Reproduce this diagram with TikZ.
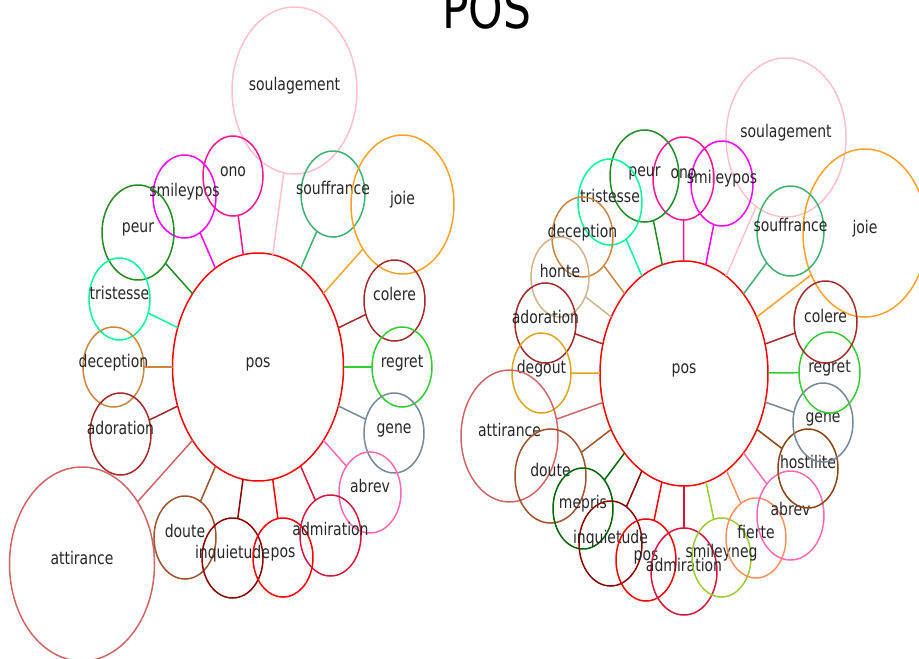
\documentclass[tikz,border=0pt]{standalone}
\usepackage{fontspec}
\usetikzlibrary{shapes.geometric}
\newfontfamily\lblfont[FakeStretch=0.8]{DejaVu Sans}

\definecolor{cpink}{RGB}{255,192,203}
\definecolor{cmag}{RGB}{255,0,255}
\definecolor{cdeep}{RGB}{255,20,147}
\definecolor{cforest}{RGB}{34,139,34}
\definecolor{cseag}{RGB}{60,179,113}
\definecolor{corange}{RGB}{255,160,40}
\definecolor{cspring}{RGB}{0,250,154}
\definecolor{cbrown}{RGB}{165,42,42}
\definecolor{cperu}{RGB}{205,133,63}
\definecolor{clime}{RGB}{50,205,50}
\definecolor{cslate}{RGB}{119,136,153}
\definecolor{chot}{RGB}{255,105,180}
\definecolor{cindian}{RGB}{210,100,100}
\definecolor{csienna}{RGB}{160,82,45}
\definecolor{cdkred}{RGB}{139,0,0}
\definecolor{cred}{RGB}{255,0,0}
\definecolor{ccrimson}{RGB}{220,20,60}
\definecolor{ctan}{RGB}{210,180,140}
\definecolor{cgold}{RGB}{218,165,32}
\definecolor{cdkgreen}{RGB}{0,100,0}
\definecolor{cyg}{RGB}{154,205,50}
\definecolor{csalmon}{RGB}{255,145,95}
\definecolor{csaddle}{RGB}{139,69,19}

\tikzset{
  bub/.style={ellipse, inner sep=0pt, outer sep=0pt, line width=1.5pt},
  lbl/.style={anchor=base, inner sep=0pt, text=black!85,
    font=\lblfont\fontsize{17.5}{20}\selectfont},
  spoke/.style={line width=1.5pt},
  heading/.style={anchor=base, inner sep=0pt, text=black,
    font=\lblfont\fontsize{55}{60}\selectfont}
}

% name, x, y, width, height, colour, text
\newcommand\bubble[7]{%
  \node[bub, draw=#6, minimum width=#4pt, minimum height=#5pt] (#1) at (#2,#3) {};
  \node[lbl] (#1-t) at (#1.center) {#7};
}

\begin{document}
\begin{tikzpicture}[x=1pt, y=-1pt]
\useasboundingbox (0,0) rectangle (919,659);

\node[heading] (title) at (487,28) {POS};

% ---------------- left star ----------------
\bubble{La}{258}{367}{171}{228}{cred}{pos}
\bubble{Lsoul}{294.5}{90.5}{125}{167}{cpink}{soulagement}
\bubble{Lsmile}{184.5}{196.5}{63}{83}{cmag}{smileypos}
\bubble{Lono}{233}{176}{60}{80}{cdeep}{ono}
\bubble{Lpeur}{138}{232.5}{72}{95}{cforest}{peur}
\bubble{Lsouf}{333}{194}{64}{86}{cseag}{souffrance}
\bubble{Ljoie}{402.5}{204.5}{103}{139}{corange}{joie}
\bubble{Ltrist}{119.5}{299}{61}{82}{cspring}{tristesse}
\bubble{Lcol}{394.5}{300.5}{61}{81}{cbrown}{colere}
\bubble{Ldec}{113.5}{367}{61}{80}{cperu}{deception}
\bubble{Lreg}{402}{367}{60}{80}{clime}{regret}
\bubble{Lado}{120.5}{434}{61}{82}{cbrown}{adoration}
\bubble{Lgene}{394}{433}{60}{80}{cslate}{gene}
\bubble{Labrev}{370}{492.5}{62}{81}{chot}{abrev}
\bubble{Latt}{82}{564}{145}{194}{cindian}{attirance}
\bubble{Ldoute}{185}{537.5}{62}{83}{csienna}{doute}
\bubble{Linq}{232.5}{558}{61}{80}{cdkred}{inquietude}
\bubble{Lpos}{283}{557.5}{60}{79}{cred}{pos}
\bubble{Ladm}{330.5}{535.5}{61}{81}{ccrimson}{admiration}

\foreach \n/\c in {Lsoul/cpink, Lsmile/cmag, Lono/cdeep, Lpeur/cforest,
  Lsouf/cseag, Ljoie/corange, Ltrist/cspring, Lcol/cbrown, Ldec/cperu,
  Lreg/clime, Lado/cbrown, Lgene/cslate, Labrev/chot, Latt/cindian,
  Ldoute/csienna, Linq/cdkred, Lpos/cred, Ladm/ccrimson}
  \draw[spoke, \c] (La) -- (\n);

% ---------------- right star ----------------
\bubble{Ra}{684}{373.5}{168}{225}{cred}{pos}
\bubble{Rsoul}{786}{137.5}{120}{159}{cpink}{soulagement}
\bubble{Rjoie}{865}{233}{124}{168}{corange}{joie}
\bubble{Rsouf}{790.5}{231}{67}{90}{cseag}{souffrance}
\bubble{Rsmile}{722}{183.5}{62}{85}{cmag}{smileypos}
\bubble{Rono}{683.5}{178.5}{61}{83}{cdeep}{ono}
\bubble{Rpeur}{644.5}{176}{69}{92}{cforest}{peur}
\bubble{Rtrist}{610}{202}{64}{86}{cspring}{tristesse}
\bubble{Rdec}{582.5}{237}{61}{80}{cperu}{deception}
\bubble{Rhonte}{560}{277}{58}{80}{ctan}{honte}
\bubble{Rado}{545.5}{323}{61}{80}{cbrown}{adoration}
\bubble{Rdeg}{541.5}{373}{59}{80}{cgold}{degout}
\bubble{Ratt}{509.5}{436}{97}{132}{cindian}{attirance}
\bubble{Rdoute}{550.5}{476}{71}{94}{csienna}{doute}
\bubble{Rmep}{583}{508.5}{60}{81}{cdkgreen}{mepris}
\bubble{Rinq}{610.5}{543.5}{63}{85}{cdkred}{inquietude}
\bubble{Rpos}{646}{560}{60}{82}{cred}{pos}
\bubble{Radm}{684}{571.5}{66}{87}{ccrimson}{admiration}
\bubble{Rsneg}{721.5}{557.5}{59}{79}{cyg}{smileyneg}
\bubble{Rfier}{756}{538}{60}{80}{csalmon}{fierte}
\bubble{Rabrev}{790.5}{515.5}{67}{89}{chot}{abrev}
\bubble{Rhost}{808}{468.5}{60}{79}{csaddle}{hostilite}
\bubble{Rgene}{823}{422.5}{60}{79}{cslate}{gene}
\bubble{Rreg}{829.5}{372.5}{61}{81}{clime}{regret}
\bubble{Rcol}{825.5}{322}{63}{82}{cbrown}{colere}

\foreach \n/\c in {Rsoul/cpink, Rjoie/corange, Rsouf/cseag, Rsmile/cmag,
  Rono/cdeep, Rpeur/cforest, Rtrist/cspring, Rdec/cperu, Rhonte/ctan,
  Rado/cbrown, Rdeg/cgold, Ratt/cindian, Rdoute/csienna, Rmep/cdkgreen,
  Rinq/cdkred, Rpos/cred, Radm/ccrimson, Rsneg/cyg, Rfier/csalmon,
  Rabrev/chot, Rhost/csaddle, Rgene/cslate, Rreg/clime, Rcol/cbrown}
  \draw[spoke, \c] (Ra) -- (\n);
\end{tikzpicture}
\end{document}
